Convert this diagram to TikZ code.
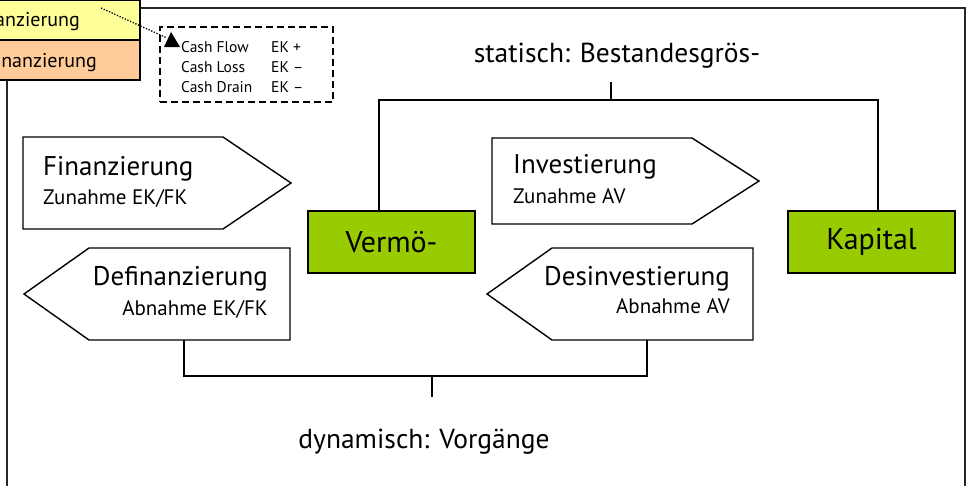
\documentclass[tikz,border=0pt]{standalone}
\usepackage{fontspec}
\setmainfont{PT Sans}
\definecolor{lgreen}{HTML}{99CC00}
\definecolor{lyellow}{HTML}{FFFF99}
\definecolor{lorange}{HTML}{FFCC99}
\tikzset{
  pent/.style={draw=black, line width=1.4pt, fill=white, line join=miter},
  ttl/.style={font=\fontsize{27}{31}\selectfont, inner sep=0pt},
  sub/.style={font=\fontsize{21}{24}\selectfont, inner sep=0pt},
  greenbox/.style={draw=black, line width=1.6pt, fill=lgreen, minimum width=167pt,
    minimum height=62pt, font=\fontsize{30}{34}\selectfont, inner sep=0pt},
  conn/.style={line width=1.3pt},
  frame/.style={line width=2pt, black!85},
  tab/.style={draw=black, line width=1.8pt, minimum width=220pt, minimum height=40pt, inner sep=0pt},
  tabtext/.style={anchor=base east, font=\fontsize{20}{22}\selectfont, inner sep=0pt},
  small/.style={font=\fontsize{15.5}{18}\selectfont, inner sep=0pt},
  lbl/.style={font=\fontsize{27.5}{31}\selectfont, inner sep=0pt}
}
\begin{document}
\begin{tikzpicture}[x=1pt,y=-1pt]
\useasboundingbox (0,0) rectangle (966,485);
\clip (0,0) rectangle (966,485);
\fill[white] (0,0) rectangle (966,485);

% outer frame
\draw[frame] (140,8) -- (965,8) -- (965,495);
\draw[frame] (7,80) -- (7,495);

% tabs in the upper left corner
\node[tab, fill=lyellow] (tabF) at (30,20) {};
\node[tab, fill=lorange] (tabD) at (30,60) {};
\node[tabtext] at (80,26) {Finanzierung};
\node[tabtext] at (97,67) {Definanzierung};

% note box with cash items
\node[draw=black, line width=1.5pt, dash pattern=on 7pt off 4pt, minimum width=173pt,
      minimum height=75pt, inner sep=0pt] (cash) at (246.5,64.5) {};
\node[small, anchor=base west] (cf) at (181,52) {Cash Flow};
\node[small, anchor=base west] (cl) at (181,72) {Cash Loss};
\node[small, anchor=base west] (cd) at (181,92) {Cash Drain};
\node[small, anchor=base west] at (271,52) {EK +};
\node[small, anchor=base west] at (271,72) {EK –};
\node[small, anchor=base west] at (271,92) {EK –};
\coordinate (cstart) at (101,8);
\coordinate (ctip) at (167,38);
\draw[line width=1.3pt, dash pattern=on 1.3pt off 1.6pt] (cstart) -- (ctip);
\fill[black] (171,32) -- (180,47) -- (164,47) -- cycle;

% static quantities
\node[lbl, anchor=base] (stat) at (617,62) {statisch: Bestandesgrös-};
\node[greenbox] (verm) at (391.5,242) {Vermö-};
\node[greenbox] (kap) at (871.5,242) {Kapital};
\coordinate (stub) at (611,82);
\coordinate (vl) at (379,100);
\coordinate (kr) at (878,100);
\draw[conn] (stub) -- (stub |- vl);
\draw[conn] (vl |- verm.north) -- (vl) -- (kr) -- (kr |- kap.north);

% flows
\draw[pent] (23,137) -- (223,137) -- (291,183) -- (223,229) -- (23,229) -- cycle;
\node[ttl, anchor=base west] (fin) at (43,175) {Finanzierung};
\node[sub, anchor=base west] at (43,204) {Zunahme EK/FK};

\draw[pent] (492,138) -- (692,138) -- (759,181) -- (692,224) -- (492,224) -- cycle;
\node[ttl, anchor=base west] (inv) at (513,173) {Investierung};
\node[sub, anchor=base west] at (513,203) {Zunahme AV};

\draw[pent] (24,294) -- (89,248) -- (290,248) -- (290,340) -- (89,340) -- cycle;
\node[ttl, anchor=base east] (def) at (268,285) {Definanzierung};
\node[sub, anchor=base east] at (268,315) {Abnahme EK/FK};

\draw[pent] (487,294) -- (552,248) -- (753,248) -- (753,340) -- (552,340) -- cycle;
\node[ttl, anchor=base east] (des) at (730,285) {Desinvestierung};
\node[sub, anchor=base east] at (730,313) {Abnahme AV};

% dynamic bracket
\coordinate (defB) at (184,340);
\coordinate (desB) at (647,340);
\coordinate (dl) at (184,376);
\coordinate (dr) at (647,376);
\coordinate (dstub) at (432,397);
\draw[conn] (defB) -- (dl) -- (dr) -- (desB);
\draw[conn] (dstub |- dl) -- (dstub);
\node[lbl, anchor=base] (dyn) at (424,448) {dynamisch: Vorgänge};
\end{tikzpicture}
\end{document}
